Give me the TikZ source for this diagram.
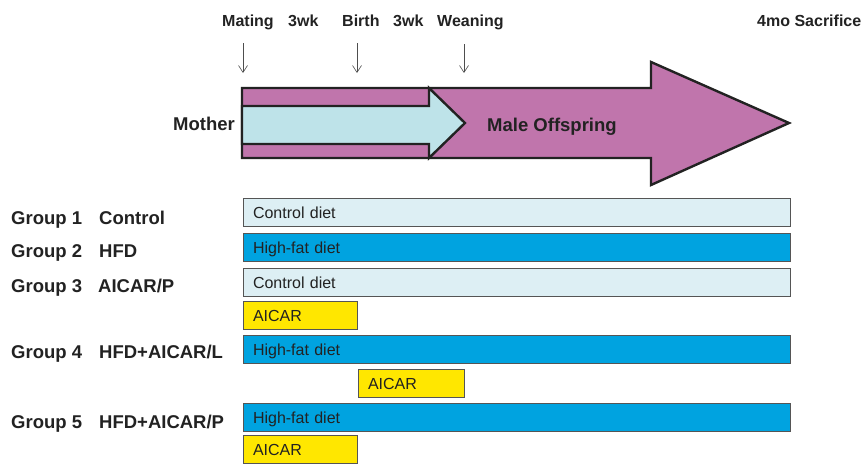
\documentclass[tikz,border=0pt]{standalone}
\usepackage{fontspec}
\setmainfont{Liberation Sans}
\usetikzlibrary{positioning, arrows.meta}
\definecolor{ink}{HTML}{222222}
\definecolor{mauve}{HTML}{C075AC}
\definecolor{paleblue}{HTML}{BEE3E9}
\definecolor{controlfill}{HTML}{DDEFF4}
\definecolor{fatfill}{HTML}{00A3E0}
\definecolor{aicarfill}{HTML}{FFE700}
\definecolor{barline}{HTML}{555555}
\tikzset{
        x=1pt, y=-1pt, % pixel-like units, y downwards
        time label/.style={font=\bfseries\fontsize{16}{19}\selectfont, text=ink, anchor=base west, inner sep=0pt},
        group label/.style={font=\bfseries\fontsize{18.5}{22}\selectfont, text=ink, anchor=base west, inner sep=0pt},
        tick/.style={-{Straight Barb[length=7pt,width=9pt]}, draw=ink!80, line width=0.6pt},
        outline/.style={draw=ink, line width=2.4pt, line join=miter},
    }
\tikzset{
      diet bar/.style={
		fill=#1,
		draw=barline,
		line width=0.8pt,
		anchor=north west,
		inner xsep=10pt,
		inner ysep=0pt,
		outer sep=0pt,
		minimum height=28pt,
		text height=13.5pt,
		text depth=1.5pt,
		align=left,
		font=\fontsize{16}{19}\selectfont,
		text=ink,
	  },
  		long bar/.style={diet bar=#1, text width=527pt},
  		short bar/.style={diet bar=aicarfill, text width=#1},
  	}

\begin{document}
\begin{tikzpicture}
    \useasboundingbox (0,0) rectangle (864,463);
    % time line
    \node [time label] (mating) at (222,27) {Mating};
    \node [time label] (wk1) at (288,27) {3wk};
    \node [time label] (birth) at (342,27) {Birth};
    \node [time label] (wk2) at (393,27) {3wk};
    \node [time label] (weaning) at (437,27) {Weaning};
    \node [time label] (sacrifice) at (757,27) {4mo Sacrifice};
    \coordinate (m0) at (243,43); \coordinate (m1) at (243,73);
    \coordinate (b0) at (357,43); \coordinate (b1) at (357,73);
    \coordinate (w0) at (464,44); \coordinate (w1) at (464,73);
    \draw [tick] (m0) -- (m1);
    \draw [tick] (b0) -- (b1);
    \draw [tick] (w0) -- (w1);
    % arrows
    \draw [outline, fill=mauve] (242,88) -- (651,88) -- (651,62) -- (789,123) -- (651,185) -- (651,158) -- (242,158) -- cycle;
    \draw [outline, fill=paleblue] (242,106) -- (429,106) -- (429,88) -- (465,123) -- (429,158) -- (429,144) -- (242,144) -- cycle;
    \node [group label, anchor=base east] (mother) at (235,130) {Mother};
    \node [group label] (offspring) at (487,131) {Male Offspring};
    % diets
    \node [long bar=controlfill] (g1) at (243,198) {Control diet};
    \node [long bar=fatfill, below=7pt of g1.south west, anchor=north west] (g2) {High-fat diet};
    \node [long bar=controlfill, below=7pt of g2.south west, anchor=north west] (g3) {Control diet};
    \node [short bar=94pt, below=5pt of g3.south west, anchor=north west] (a3) {AICAR};
    \node [long bar=fatfill, below=6pt of a3.south west, anchor=north west] (g4) {High-fat diet};
    \node [short bar=86pt, below=6pt of g4.south west, anchor=north west, xshift=115pt] (a4) {AICAR};
    \node [long bar=fatfill, below=6pt of a4.south west, anchor=north west, xshift=-115pt] (g5) {High-fat diet};
    \node [short bar=94pt, below=4pt of g5.south west, anchor=north west] (a5) {AICAR};
    % groups
    \node [group label] (n1) at (11,224) {Group 1};
    \node [group label] (t1) at (99,224) {Control};
    \node [group label] (n2) at (11,257) {Group 2};
    \node [group label] (t2) at (99,257) {HFD};
    \node [group label] (n3) at (11,292) {Group 3};
    \node [group label] (t3) at (98,292) {AICAR/P};
    \node [group label] (n4) at (11,358) {Group 4};
    \node [group label] (t4) at (99,358) {HFD+AICAR/L};
    \node [group label] (n5) at (11,428) {Group 5};
    \node [group label] (t5) at (99,428) {HFD+AICAR/P};
\end{tikzpicture}
\end{document}
